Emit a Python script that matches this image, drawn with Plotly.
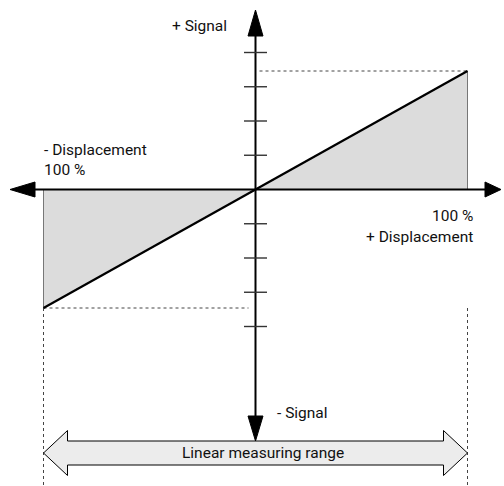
import plotly.graph_objects as go

# ---- data (displacement in %, signal in tick units) ----
displacement = [-100, 0, 100]
signal = [-3.46, 0, 3.46]
signal_ticks = [-4, -3, -2, -1, 1, 2, 3, 4]
measuring_range = [-100, 100]

# ---- pixel <-> data mapping (layout only) ----
W, H = 504, 486
X0, SX = 255.5, 2.12     # px of origin, px per %
Y0, SY = 189.5, 34.25    # px of origin, px per signal unit


def dx(px):
    return (px - X0) / SX


def dy(py):
    return (Y0 - py) / SY


FONT = dict(family="Roboto, Liberation Sans, sans-serif", size=15.5, color="#111")

fig = go.Figure()

smax = signal[-1]
smin = signal[0]
xmin, xmax = displacement[0], displacement[-1]

# shaded triangles
fig.add_trace(go.Scatter(x=[0, xmax, xmax, 0], y=[0, 0, smax, 0], fill="toself",
                         fillcolor="#dcdcdc", mode="lines", line=dict(color="#777", width=1)))
fig.add_trace(go.Scatter(x=[0, xmin, xmin, 0], y=[0, 0, smin, 0], fill="toself",
                         fillcolor="#dcdcdc", mode="lines", line=dict(color="#777", width=1)))

dash = dict(color="#444", width=1, dash="3px,3px")
# dashed guide lines
fig.add_trace(go.Scatter(x=[dx(X0 + 4), xmax], y=[smax, smax], mode="lines", line=dash))
fig.add_trace(go.Scatter(x=[xmin, dx(X0 - 7)], y=[smin, smin], mode="lines", line=dash))
fig.add_trace(go.Scatter(x=[xmin, xmin], y=[smin, dy(H)], mode="lines", line=dash))
fig.add_trace(go.Scatter(x=[xmax, xmax], y=[smin, dy(H)], mode="lines", line=dash))

# characteristic line
fig.add_trace(go.Scatter(x=displacement, y=signal, mode="lines", line=dict(color="#000", width=2.2)))

# axes
fig.add_trace(go.Scatter(x=[dx(14), dx(488)], y=[0, 0], mode="lines", line=dict(color="#000", width=2)))
fig.add_trace(go.Scatter(x=[0, 0], y=[dy(20), dy(430)], mode="lines", line=dict(color="#000", width=2)))

# ticks on signal axis
tx, ty = [], []
for t in signal_ticks:
    tx += [dx(X0 - 11.5), dx(X0 + 11.5), None]
    ty += [t, t, None]
fig.add_trace(go.Scatter(x=tx, y=ty, mode="lines", line=dict(color="#333", width=1.4)))

# arrowheads
heads = [
    ([dx(501), dx(485), dx(485), dx(501)], [0, dy(Y0 - 7.5), dy(Y0 + 7.5), 0]),
    ([dx(10), dx(35), dx(35), dx(10)], [0, dy(Y0 - 7.5), dy(Y0 + 7.5), 0]),
    ([0, dx(X0 - 7.5), dx(X0 + 7.5), 0], [dy(10), dy(36), dy(36), dy(10)]),
    ([0, dx(X0 - 7.5), dx(X0 + 7.5), 0], [dy(441), dy(416), dy(416), dy(441)]),
]
for hx, hy in heads:
    fig.add_trace(go.Scatter(x=hx, y=hy, fill="toself", fillcolor="#000", mode="lines",
                             line=dict(color="#000", width=1)))

# double arrow "Linear measuring range"
yc = dy(453)
a, b = measuring_range
hl = 24 / SX
ho = 22.5 / SY
hb = 12 / SY
ax_ = [a, a + hl, a + hl, b - hl, b - hl, b, b - hl, b - hl, a + hl, a + hl, a]
ay_ = [yc, yc + ho, yc + hb, yc + hb, yc + ho, yc, yc - ho, yc - hb, yc - hb, yc - ho, yc]
fig.add_trace(go.Scatter(x=ax_, y=ay_, fill="toself", fillcolor="#ececec", mode="lines",
                         line=dict(color="#000", width=1)))

ann = [
    ("+ Signal", dx(229), dy(26), "right"),
    ("- Displacement", dx(42), dy(150), "left"),
    ("100 %", dx(42), dy(170), "left"),
    ("100 %", dx(475), dy(216), "right"),
    ("+ Displacement", dx(475), dy(237), "right"),
    ("- Signal", dx(275), dy(413), "left"),
    ("Linear measuring range", dx(263), yc, "center"),
]
for text, x, y, xa in ann:
    fig.add_annotation(x=x, y=y, text=text, showarrow=False, xanchor=xa, yanchor="middle",
                       font=FONT)

fig.update_layout(
    width=W, height=H, margin=dict(l=0, r=0, t=0, b=0),
    paper_bgcolor="white", plot_bgcolor="white", showlegend=False,
    xaxis=dict(range=[dx(0), dx(W)], visible=False, fixedrange=True),
    yaxis=dict(range=[dy(H), dy(0)], visible=False, fixedrange=True),
)

fig.write_html("out.html", config={"displayModeBar": False, "staticPlot": True},
               post_script="document.body.style.margin='0';document.body.style.overflow='hidden';")
